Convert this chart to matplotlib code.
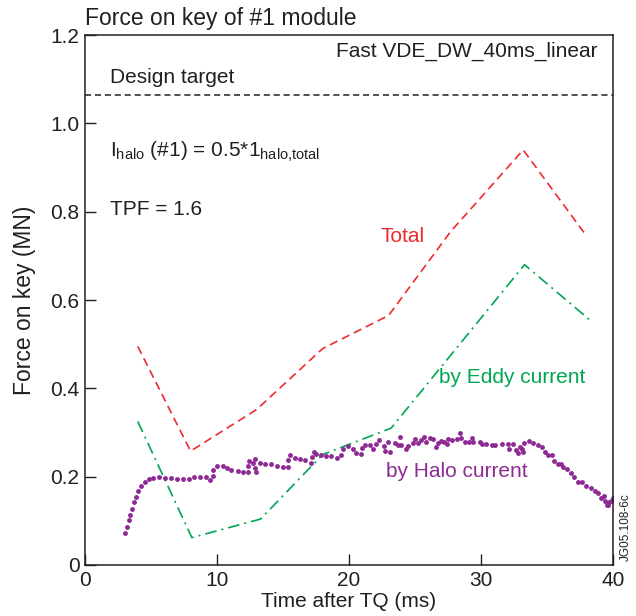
import matplotlib
matplotlib.use('Agg')
import matplotlib.pyplot as plt

plt.rcParams.update({
    'font.family': ['Liberation Sans', 'DejaVu Sans'],
    'mathtext.fontset': 'custom',
    'mathtext.rm': 'Liberation Sans',
    'mathtext.it': 'Liberation Sans',
    'text.color': '#231f20',
})

# ---- data ----
t_total = [4, 8, 13, 18, 23, 27.7, 33.2, 38]
f_total = [0.495, 0.258, 0.352, 0.49, 0.565, 0.755, 0.94, 0.745]

t_eddy = [4, 8.1, 13.3, 18, 23.2, 33.3, 38.2]
f_eddy = [0.325, 0.062, 0.104, 0.25, 0.31, 0.68, 0.556]

t_halo = [3.04, 3.17, 3.32, 3.44, 3.57, 3.70, 3.83, 4.01, 4.28, 4.56, 4.87, 5.17, 5.60,
          6.08, 6.54, 7.00, 7.45, 7.89, 8.29, 8.75, 9.18, 9.48, 9.71, 9.73, 9.98, 10.42,
          10.75, 11.10, 11.56, 11.94, 12.34, 12.34, 12.40, 12.75, 12.87, 12.90, 12.93,
          13.23, 13.64, 14.12, 14.52, 14.98, 15.41, 15.41, 15.51, 15.92, 16.27, 16.65,
          17.11, 17.19, 17.34, 17.51, 17.89, 18.25, 18.65, 19.09, 19.37, 19.52, 19.90,
          20.30, 20.53, 20.94, 20.99, 21.22, 21.62, 21.80, 22.08, 22.26, 22.64, 22.74,
          22.97, 23.14, 23.50, 23.75, 23.90, 23.95, 24.33, 24.49, 24.84, 25.02, 25.25,
          25.42, 25.70, 25.83, 26.14, 26.39, 26.59, 26.72, 26.94, 27.17, 27.43, 27.53,
          27.81, 28.16, 28.39, 28.46, 28.77, 29.13, 29.30, 29.43, 29.91, 30.06, 30.37,
          30.80, 31.10, 31.63, 32.07, 32.14, 32.42, 32.62, 32.78, 32.95, 33.13, 33.18,
          33.29, 33.64, 33.97, 34.30, 34.62, 34.88, 35.11, 35.36, 35.54, 35.82, 36.07,
          36.22, 36.50, 36.83, 37.06, 37.32, 37.64, 37.97, 38.33, 38.65, 38.86, 39.09,
          39.29, 39.41, 39.54, 39.62, 39.72, 39.85, 40.02]
f_halo = [0.073, 0.087, 0.101, 0.114, 0.127, 0.142, 0.155, 0.168, 0.179, 0.189, 0.194, 0.198,
          0.199, 0.198, 0.198, 0.195, 0.194, 0.195, 0.199, 0.199, 0.199, 0.192, 0.202, 0.215,
          0.225, 0.224, 0.219, 0.214, 0.213, 0.210, 0.210, 0.225, 0.235, 0.231, 0.239, 0.220,
          0.210, 0.232, 0.229, 0.229, 0.225, 0.222, 0.223, 0.237, 0.248, 0.242, 0.239, 0.238,
          0.232, 0.244, 0.257, 0.251, 0.248, 0.246, 0.247, 0.242, 0.250, 0.263, 0.269, 0.262,
          0.254, 0.251, 0.265, 0.272, 0.272, 0.263, 0.273, 0.283, 0.269, 0.258, 0.278, 0.257,
          0.276, 0.272, 0.290, 0.272, 0.263, 0.270, 0.276, 0.285, 0.276, 0.284, 0.290, 0.279,
          0.288, 0.285, 0.267, 0.277, 0.281, 0.278, 0.274, 0.285, 0.282, 0.286, 0.298, 0.287,
          0.278, 0.278, 0.287, 0.278, 0.278, 0.273, 0.275, 0.271, 0.271, 0.273, 0.274, 0.263,
          0.273, 0.261, 0.254, 0.267, 0.263, 0.256, 0.277, 0.281, 0.276, 0.272, 0.267, 0.257,
          0.248, 0.249, 0.236, 0.228, 0.229, 0.223, 0.217, 0.209, 0.199, 0.188, 0.188, 0.180,
          0.174, 0.168, 0.164, 0.152, 0.157, 0.144, 0.135, 0.137, 0.143, 0.146, 0.151]

design_target = 1.065
x_ticks = [0, 10, 20, 30, 40]
y_ticks = [0, 0.2, 0.4, 0.6, 0.8, 1.0, 1.2]
y_ticklabels = ['0', '0.2', '0.4', '0.6', '0.8', '1.0', '1.2']

RED = '#ee2a2e'
GREEN = '#00a651'
PURPLE = '#8e2a94'
INK = '#231f20'

fig = plt.figure(figsize=(6.36, 6.16), dpi=100)
ax = fig.add_axes([0.1336, 0.0828, 0.8302, 0.8602])

ax.plot(t_total, f_total, color=RED, lw=1.2, dashes=(5, 3))
ax.plot(t_eddy, f_eddy, color=GREEN, lw=1.2, dashes=(7, 3, 1.2, 3))
ax.plot(t_halo, f_halo, ls='none', marker='o', ms=3.5, color=PURPLE, mec='none')
ax.axhline(design_target, color=INK, lw=1.1, dashes=(4, 2.5))

ax.set_xlim(0, 40)
ax.set_ylim(0, 1.2)
ax.set_xticks(x_ticks)
ax.set_yticks(y_ticks)
ax.set_yticklabels(y_ticklabels)
ax.tick_params(direction='in', length=8, width=1, colors=INK, labelsize=15, pad=4)
for s in ax.spines.values():
    s.set_linewidth(1.1)
    s.set_color(INK)

ax.set_xlabel('Time after TQ (ms)', fontsize=15, color=INK, labelpad=2)
ax.set_ylabel('Force on key (MN)', fontsize=16.5, color=INK, labelpad=10)

ax.text(0, 1.212, 'Force on key of #1 module', fontsize=16.5, ha='left', va='bottom')
ax.text(38.8, 1.163, 'Fast VDE_DW_40ms_linear', fontsize=15, ha='right', va='center')
ax.text(1.9, 1.083, 'Design target', fontsize=15, ha='left', va='bottom')
ax.text(1.9, 0.935, r'I$_{\mathrm{halo}}$ (#1) = 0.5*1$_{\mathrm{halo{,}total}}$',
        fontsize=15, ha='left', va='center')
ax.text(1.9, 0.805, 'TPF = 1.6', fontsize=15, ha='left', va='center')
ax.text(22.4, 0.745, 'Total', fontsize=15, color=RED, ha='left', va='center')
ax.text(26.8, 0.425, 'by Eddy current', fontsize=15, color=GREEN, ha='left', va='center')
ax.text(22.8, 0.212, 'by Halo current', fontsize=15, color=PURPLE, ha='left', va='center')
ax.text(40.55, 0.01, 'JG05.108-6c', fontsize=8.5, rotation=90, ha='left', va='bottom')

fig.savefig('out.png', dpi=100)
